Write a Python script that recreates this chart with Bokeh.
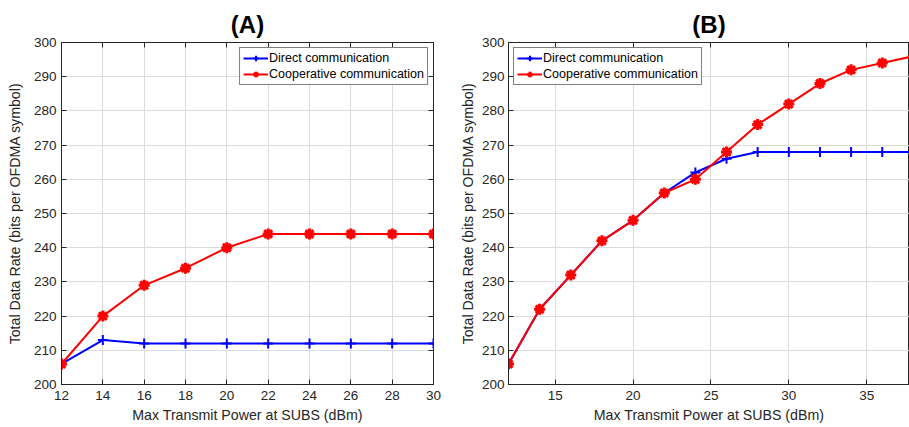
from bokeh.plotting import figure
from bokeh.layouts import row
from bokeh.models import Range1d, FixedTicker, Legend, LegendItem, LinearAxis
from bokeh.embed import file_html
from bokeh.resources import INLINE

# Panel A data
xa = [12, 14, 16, 18, 20, 22, 24, 26, 28, 30]
direct_a = [206, 213, 212, 212, 212, 212, 212, 212, 212, 212]
coop_a = [206, 220, 229, 234, 240, 244, 244, 244, 244, 244]

# Panel B data
xb = [12, 14, 16, 18, 20, 22, 24, 26, 28, 30, 32, 34, 36, 38]
direct_b = [206, 222, 232, 242, 248, 256, 262, 266, 268, 268, 268, 268, 268, 268]
coop_b = [206, 222, 232, 242, 248, 256, 260, 268, 276, 282, 288, 292, 294, 296]

xticks_a = [12, 14, 16, 18, 20, 22, 24, 26, 28, 30]
xticks_b = [15, 20, 25, 30, 35]
yticks = [200, 210, 220, 230, 240, 250, 260, 270, 280, 290, 300]

FONT = "Liberation Sans"
TXT = "#262626"


def style_axis(ax):
    ax.major_tick_in = 5
    ax.major_tick_out = 0
    ax.minor_tick_in = 0
    ax.minor_tick_out = 0
    ax.axis_line_color = TXT
    ax.major_tick_line_color = TXT
    ax.major_label_text_font = FONT
    ax.major_label_text_font_size = "13.5px"
    ax.major_label_text_color = TXT
    ax.axis_label_text_font = FONT
    ax.axis_label_text_font_size = "14.2px"
    ax.axis_label_text_font_style = "normal"
    ax.axis_label_text_color = TXT


def blank_axis(ticks):
    ax = LinearAxis(ticker=FixedTicker(ticks=ticks))
    style_axis(ax)
    ax.major_label_text_font_size = "0px"
    ax.major_label_standoff = 0
    ax.major_label_text_alpha = 0
    return ax


def make(title, x, d, c, xr, xticks, ml, mr, fw, top, legend_loc, right_axis,
         ylab_standoff, ytick_standoff):
    p = figure(output_backend="svg", toolbar_location=None,
               frame_width=fw, frame_height=342,
               min_border_left=ml, min_border_right=mr,
               min_border_top=top, min_border_bottom=427 - top - 342,
               x_range=Range1d(*xr), y_range=Range1d(200, 300),
               title=title)
    p.title.text_font = FONT
    p.title.text_font_size = "24px"
    p.title.text_font_style = "bold"
    p.title.align = "center"
    p.title.text_color = "black"
    p.background_fill_color = "white"
    p.border_fill_color = "white"
    p.outline_line_color = TXT
    p.outline_line_width = 1
    p.outline_line_alpha = 1

    p.xaxis.ticker = FixedTicker(ticks=xticks)
    p.yaxis.ticker = FixedTicker(ticks=yticks)
    style_axis(p.xaxis[0])
    style_axis(p.yaxis[0])
    p.xaxis.axis_label = "Max Transmit Power at SUBS (dBm)"
    p.yaxis.axis_label = "Total Data Rate (bits per OFDMA symbol)"
    p.xaxis.major_label_standoff = 6
    p.xaxis.axis_label_standoff = 4
    p.yaxis.major_label_standoff = ytick_standoff
    p.yaxis.axis_label_standoff = ylab_standoff

    p.add_layout(blank_axis(xticks), "above")
    if right_axis:
        p.add_layout(blank_axis(yticks), "right")

    p.xgrid.grid_line_color = "#dcdcdc"
    p.ygrid.grid_line_color = "#dcdcdc"
    p.xgrid.grid_line_width = 1
    p.ygrid.grid_line_width = 1

    l1 = p.line(x, d, line_color="#0000FF", line_width=2)
    s1 = p.scatter(x, d, marker="cross", size=10, line_color="#0000FF", line_width=2)
    l2 = p.line(x, c, line_color="#FF0000", line_width=2)
    s2 = p.scatter(x, c, marker="asterisk", size=11, line_color="#FF0000", line_width=3)

    leg = Legend(items=[LegendItem(label="Direct communication", renderers=[l1, s1]),
                        LegendItem(label="Cooperative communication", renderers=[l2, s2])],
                 location=legend_loc)
    leg.label_text_font = FONT
    leg.label_text_font_size = "12.5px"
    leg.label_text_color = "black"
    leg.label_standoff = 1
    leg.label_height = 14
    leg.glyph_height = 14
    leg.glyph_width = 25
    leg.spacing = 2
    leg.padding = 3
    leg.margin = 5
    leg.border_line_color = "black"
    leg.border_line_width = 1
    leg.background_fill_alpha = 1
    p.add_layout(leg)
    return p


pa = make("(A)", xa, direct_a, coop_a, (12, 30), xticks_a, 61, 22, 372, 42,
          "top_right", True, 8, 5)
pb = make("(B)", xb, direct_b, coop_b, (12, 37.75), xticks_b, 53, 0, 401, 40,
          "top_left", False, 3, 4)

layout = row(pa, pb)
open("out.html", "w").write(file_html(layout, INLINE))
